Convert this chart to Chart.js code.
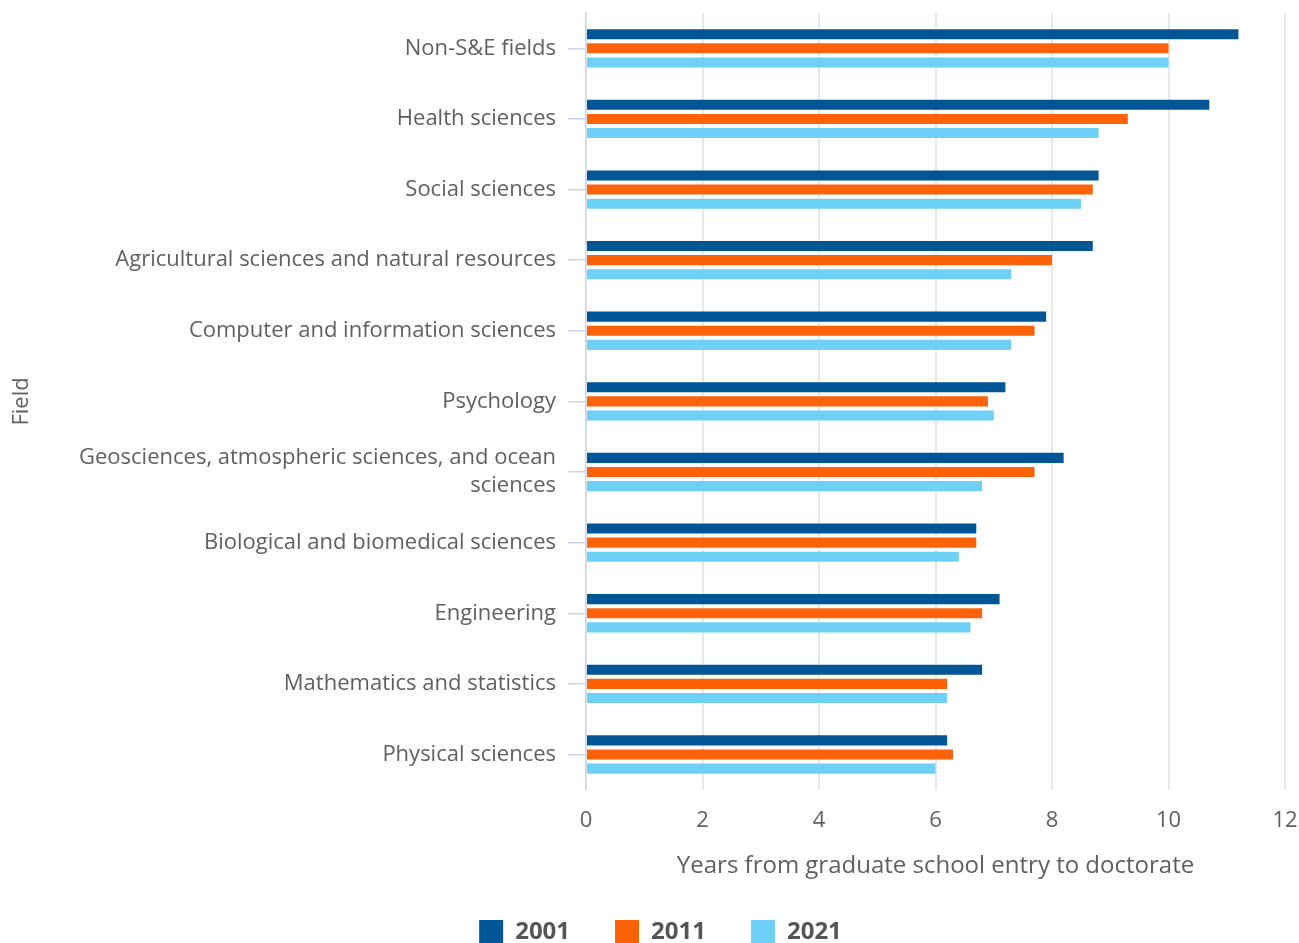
<!DOCTYPE html>
<html>
<head>
<meta charset="utf-8">
<script src="https://cdn.jsdelivr.net/npm/chart.js@4/dist/chart.umd.min.js"></script>
<style>
  body { margin: 0; background: #fff; }
  #wrap { width: 1299px; height: 943px; }
</style>
</head>
<body>
<div id="wrap"><canvas id="myChart" width="1299" height="943"></canvas></div>
<script>
var fields = [
  "Non-S&E fields",
  "Health sciences",
  "Social sciences",
  "Agricultural sciences and natural resources",
  "Computer and information sciences",
  "Psychology",
  ["Geosciences, atmospheric sciences, and ocean", "sciences"],
  "Biological and biomedical sciences",
  "Engineering",
  "Mathematics and statistics",
  "Physical sciences"
]

var years = ["2001", "2011", "2021"]
var values2001 = [11.2, 10.7, 8.8, 8.7, 7.9, 7.2, 8.2, 6.7, 7.1, 6.8, 6.2]
var values2011 = [10.0, 9.3, 8.7, 8.0, 7.7, 6.9, 7.7, 6.7, 6.8, 6.2, 6.3]
var values2021 = [10.0, 8.8, 8.5, 7.3, 7.3, 7.0, 6.8, 6.4, 6.6, 6.2, 6.0]
var xTicks = [0, 2, 4, 6, 8, 10, 12]

var barColors = ["#005596", "#fd6208", "#6ed0f7"]
var textColor = "#606060"

Chart.defaults.font.family = "'Open Sans', sans-serif"
Chart.defaults.color = textColor

var chart = new Chart("myChart", {
  type: "bar",
  data: {
    labels: fields,
    datasets: [{
      label: years[0],
      data: values2001,
      backgroundColor: barColors[0]
    }, {
      label: years[1],
      data: values2011,
      backgroundColor: barColors[1]
    }, {
      label: years[2],
      data: values2021,
      backgroundColor: barColors[2]
    }]
  },
  options: {
    indexAxis: "y",
    responsive: false,
    animation: false,
    datasets: {
      bar: { categoryPercentage: 0.6, barPercentage: 0.714, borderWidth: 0 }
    },
    layout: {
      // left padding also centres the legend like the original
      padding: { left: 36, right: 14, top: 13, bottom: -11 }
    },
    scales: {
      x: {
        min: 0,
        max: 12,
        afterBuildTicks: function(scale) {
          scale.ticks = xTicks.map(function(v) { return { value: v } })
        },
        afterFit: function(scale) {
          scale.paddingLeft = 0
          scale.paddingRight = 0
        },
        grid: { color: "#e8e8e8", lineWidth: 2, drawTicks: false },
        border: { display: false },
        ticks: { padding: 18, color: textColor, font: { size: 22 } },
        title: {
          display: true,
          text: "Years from graduate school entry to doctorate",
          color: textColor,
          font: { size: 24 },
          padding: { top: 0, bottom: -6 }
        }
      },
      y: {
        afterFit: function(scale) {
          scale.width = 550
          scale.paddingTop = 0
          scale.paddingBottom = 0
        },
        grid: {
          drawOnChartArea: false,
          offset: false,
          tickLength: 18,
          color: "#ccd6eb",
          lineWidth: 1.5
        },
        border: { display: true, color: "#ccd6eb", width: 1.5 },
        ticks: { padding: 12, color: textColor, font: { size: 22, lineHeight: 1.27 } },
        title: {
          display: true,
          text: "Field",
          color: textColor,
          font: { size: 22 },
          padding: { top: -27, bottom: 0 }
        }
      }
    },
    plugins: {
      legend: {
        position: "bottom",
        labels: {
          boxWidth: 24,
          boxHeight: 24,
          padding: 45,
          color: "#555555",
          font: { size: 24, weight: "bold" }
        }
      },
      tooltip: { enabled: false }
    }
  }
});
</script>
</body>
</html>
